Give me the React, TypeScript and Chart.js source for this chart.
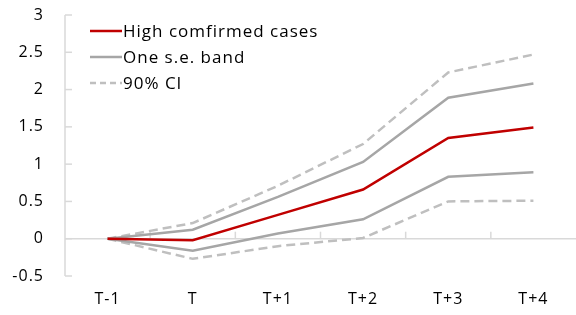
import React, { useEffect, useRef } from "react";
import { Chart, registerables } from "chart.js";

Chart.register(...registerables);

const categories = ["T-1", "T", "T+1", "T+2", "T+3", "T+4"];
const highConfirmed = [0, -0.02, 0.32, 0.66, 1.35, 1.49];
const seUpper = [0, 0.12, 0.56, 1.03, 1.89, 2.08];
const seLower = [0, -0.16, 0.07, 0.26, 0.83, 0.89];
const ciUpper = [0, 0.21, 0.71, 1.27, 2.23, 2.47];
const ciLower = [0, -0.27, -0.1, 0.01, 0.5, 0.51];
const legendLabels = ["High comfirmed cases", "One s.e. band", "90% CI"];

const RED = "#c00000";
const GRAY = "#a6a6a6";
const LIGHT = "#bfbfbf";
const AXIS = "#d9d9d9";
const FONT = "'Open Sans', 'Noto Sans', sans-serif";

const spacing = {
  id: "spacing",
  beforeUpdate(chart: any) {
    chart.ctx.letterSpacing = "1px";
  },
  beforeDraw(chart: any) {
    chart.ctx.letterSpacing = "1px";
  },
};

const axesAndLegend = {
  id: "axesAndLegend",
  beforeDatasetsDraw(chart: any) {
    const { ctx, chartArea } = chart;
    const x = chart.scales.x;
    const y = chart.scales.y;
    ctx.save();
    ctx.strokeStyle = AXIS;
    ctx.lineWidth = 1.5;
    ctx.beginPath();
    ctx.moveTo(chartArea.left, chartArea.top);
    ctx.lineTo(chartArea.left, chartArea.bottom);
    ctx.stroke();
    for (const t of y.ticks) {
      const py = y.getPixelForValue(t.value);
      ctx.beginPath();
      ctx.moveTo(chartArea.left, py);
      ctx.lineTo(chartArea.left + 7, py);
      ctx.stroke();
    }
    const y0 = y.getPixelForValue(0);
    ctx.beginPath();
    ctx.moveTo(chartArea.left, y0);
    ctx.lineTo(chartArea.right, y0);
    ctx.stroke();
    const n = categories.length;
    for (let i = 1; i < n; i++) {
      const px = (x.getPixelForValue(i - 1) + x.getPixelForValue(i)) / 2;
      ctx.beginPath();
      ctx.moveTo(px, y0);
      ctx.lineTo(px, y0 - 7);
      ctx.stroke();
    }
    ctx.restore();
  },
  afterDraw(chart: any) {
    const { ctx, chartArea } = chart;
    ctx.save();
    const items = [
      { color: RED, dash: [] as number[], label: legendLabels[0] },
      { color: GRAY, dash: [] as number[], label: legendLabels[1] },
      { color: LIGHT, dash: [6, 4], label: legendLabels[2] },
    ];
    const x0 = chartArea.left + 25;
    let yy = 31;
    ctx.font = `17px ${FONT}`;
    ctx.letterSpacing = "1px";
    ctx.textBaseline = "middle";
    ctx.textAlign = "left";
    for (const it of items) {
      ctx.strokeStyle = it.color;
      ctx.lineWidth = 2.5;
      ctx.setLineDash(it.dash);
      ctx.beginPath();
      ctx.moveTo(x0, yy);
      ctx.lineTo(x0 + 32, yy);
      ctx.stroke();
      ctx.setLineDash([]);
      ctx.fillStyle = "#000";
      ctx.fillText(it.label, x0 + 33, yy + 1);
      yy += 26;
    }
    ctx.restore();
  },
};

export default function App() {
  const ref = useRef<HTMLCanvasElement>(null);
  useEffect(() => {
    if (!ref.current) return;
    const line = (data: number[], color: string, dash: number[]) => ({
      data,
      borderColor: color,
      backgroundColor: color,
      borderWidth: 2.5,
      borderDash: dash,
      pointRadius: 0,
      tension: 0,
      fill: false,
    });
    const chart = new Chart(ref.current, {
      type: "line",
      data: {
        labels: categories,
        datasets: [
          { label: legendLabels[0], ...line(highConfirmed, RED, []) },
          { label: legendLabels[1], ...line(seUpper, GRAY, []) },
          { label: legendLabels[1] + " lower", ...line(seLower, GRAY, []) },
          { label: legendLabels[2], ...line(ciUpper, LIGHT, [9, 5]) },
          { label: legendLabels[2] + " lower", ...line(ciLower, LIGHT, [9, 5]) },
        ],
      },
      options: {
        animation: false,
        responsive: false,
        maintainAspectRatio: false,
        layout: { padding: { top: 15, right: 0, left: 0, bottom: 0 } },
        plugins: { legend: { display: false }, tooltip: { enabled: false } },
        scales: {
          x: {
            offset: true,
            grid: { display: false, drawTicks: false },
            border: { display: false },
            ticks: { color: "#000", font: { family: FONT, size: 16 }, padding: 14 },
            afterFit: (s: any) => {
              s.height = 39;
            },
          },
          y: {
            min: -0.5,
            max: 3,
            ticks: {
              stepSize: 0.5,
              color: "#000",
              font: { family: FONT, size: 16 },
              padding: 21,
              callback: (v: any) => String(Number(v)),
            },
            grid: { display: false, drawTicks: false },
            border: { display: false },
            afterFit: (s: any) => {
              s.width = 65;
              s.paddingTop = 0;
              s.paddingBottom = 0;
            },
          },
        },
      },
      plugins: [spacing, axesAndLegend],
    });
    return () => chart.destroy();
  }, []);
  return (
    <div style={{ position: "fixed", left: 0, top: 0, width: 576, height: 315, background: "#fff" }}>
      <canvas ref={ref} width={576} height={315} style={{ width: 576, height: 315 }} />
    </div>
  );
}
